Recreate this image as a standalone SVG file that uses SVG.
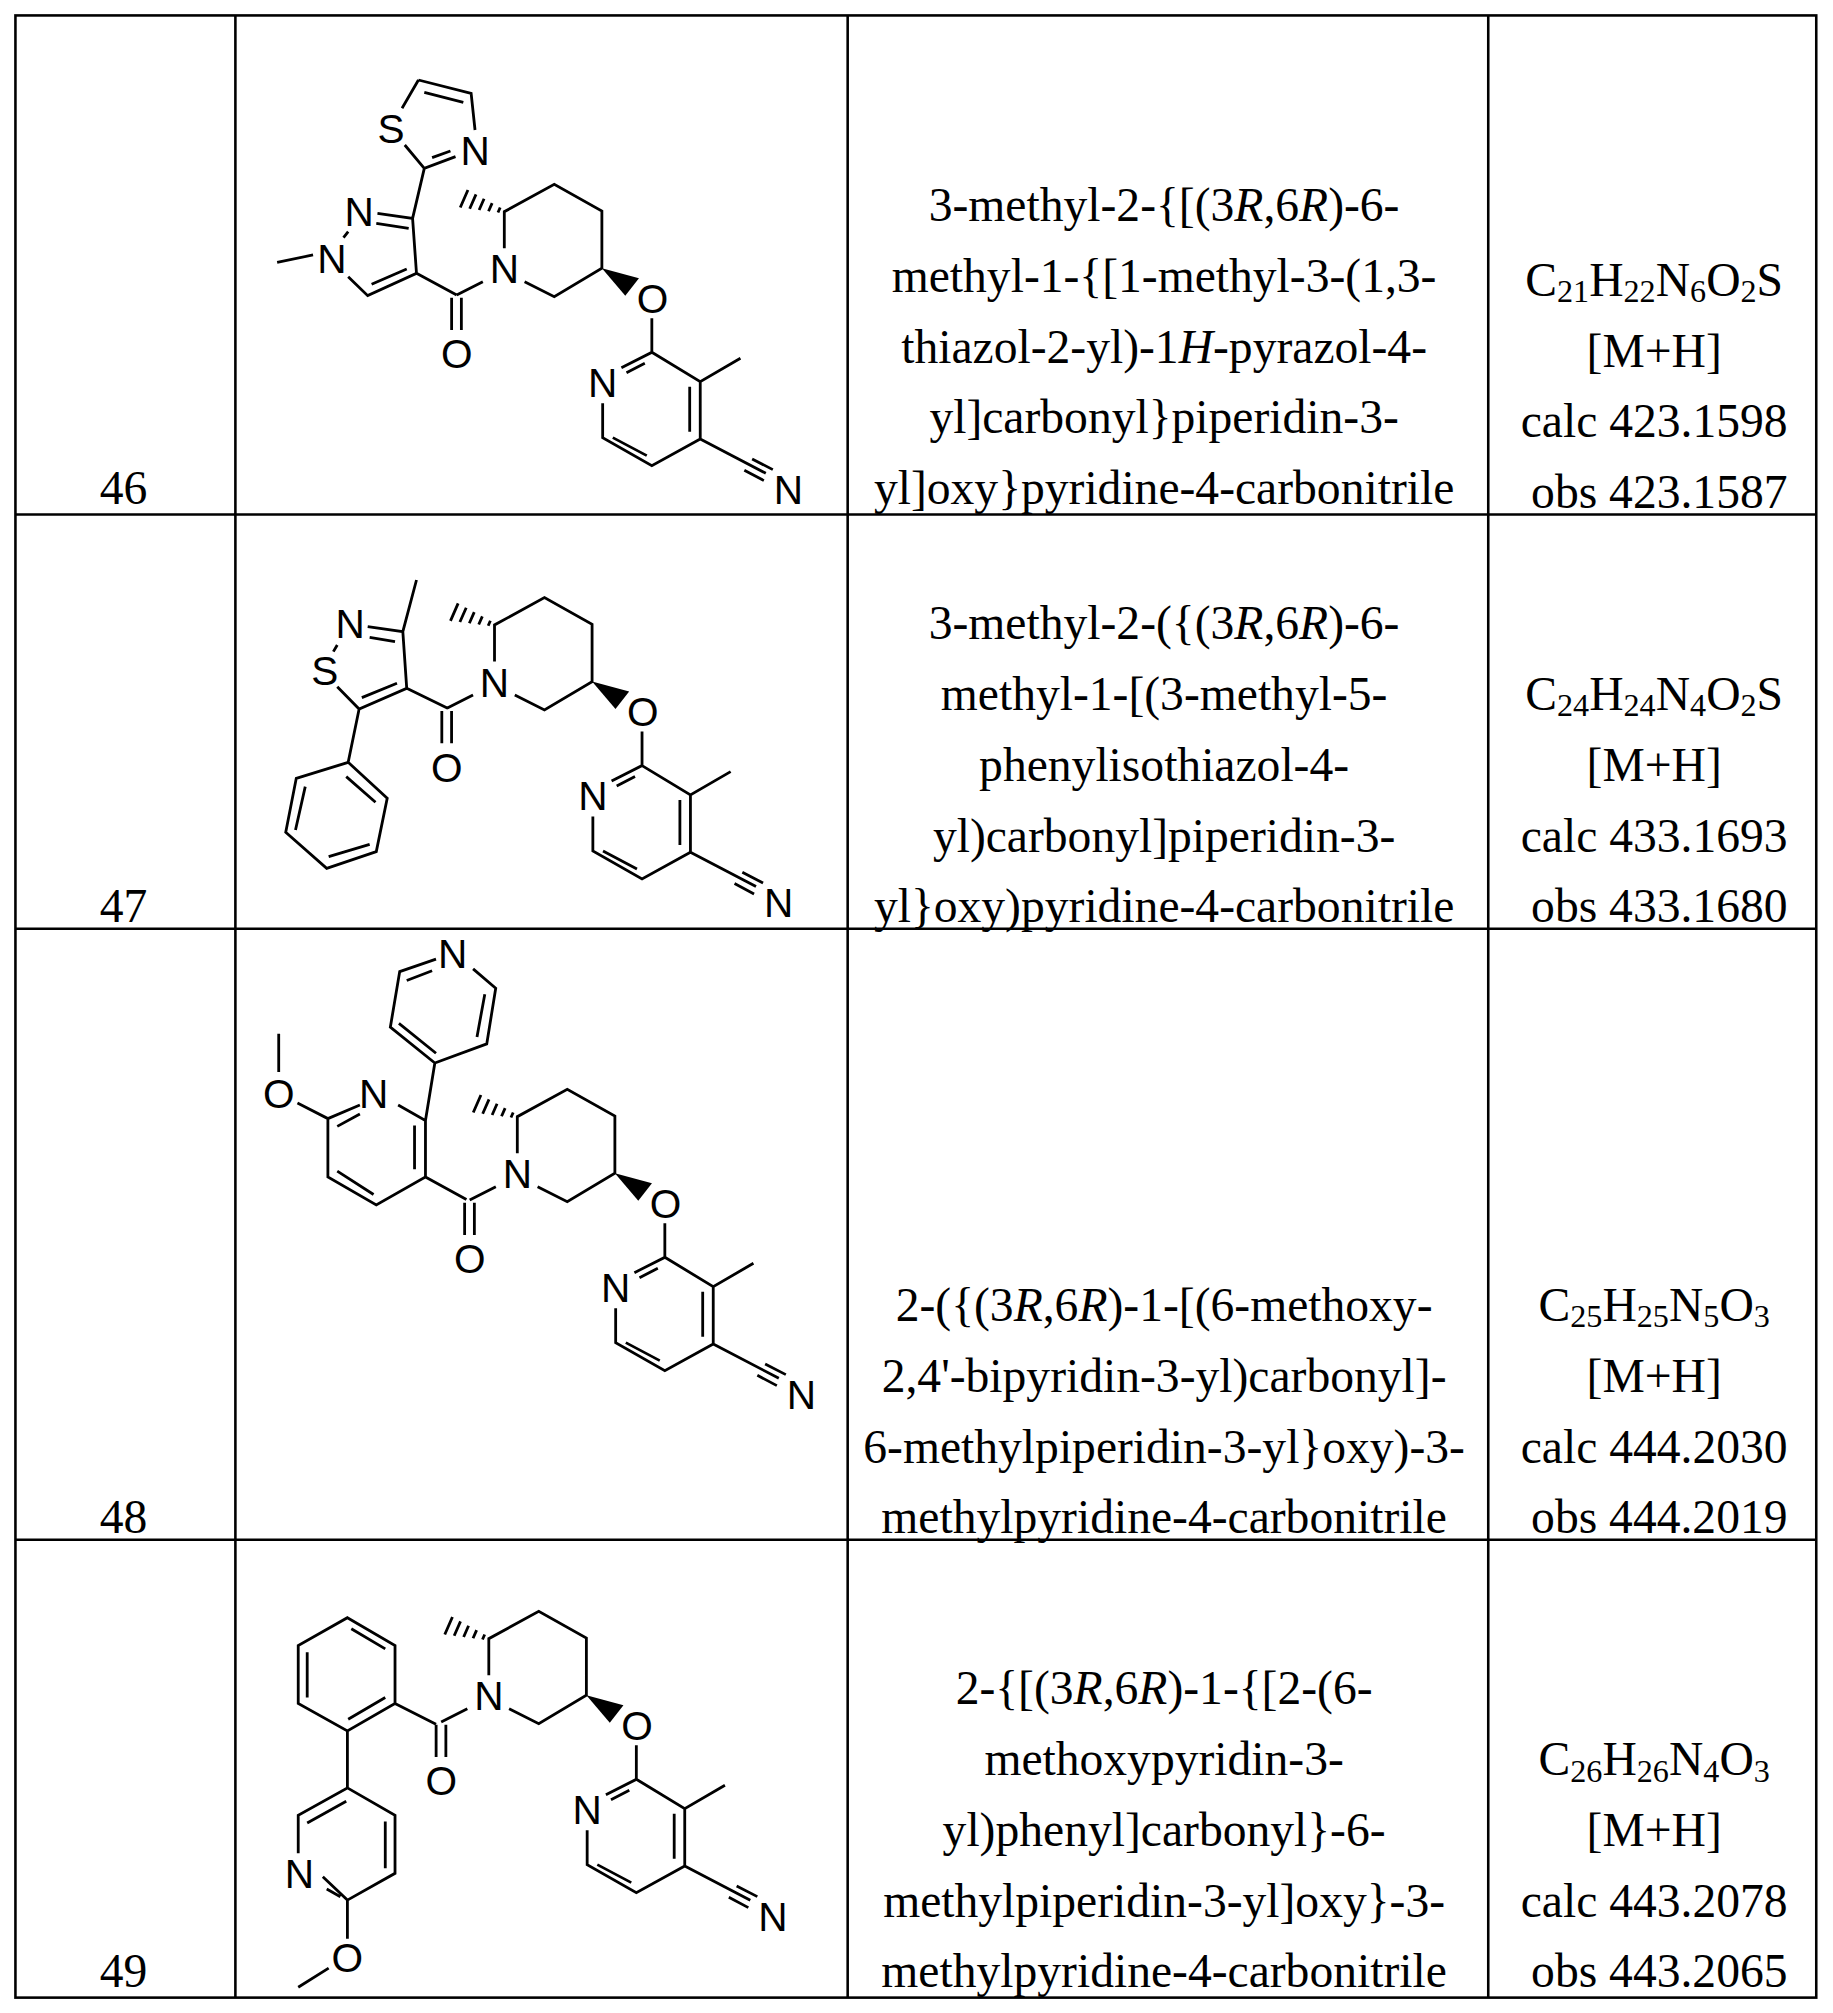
<svg xmlns="http://www.w3.org/2000/svg" xmlns:xlink="http://www.w3.org/1999/xlink" width="1833" height="2013" viewBox="0 0 1833 2013">
<style>
.b{stroke:#000;stroke-width:2.8;fill:none;vector-effect:non-scaling-stroke}
.a{font-family:"Liberation Sans",Arial,sans-serif;font-size:104px;text-anchor:middle;fill:#000}
.t{font-family:"Liberation Serif","Times New Roman",serif;font-size:37px;text-anchor:middle;fill:#000}
.s{font-size:25px}
.g{stroke:#000;stroke-width:2;fill:none}
</style>
<defs>
<g id="frag">
<g transform="scale(0.3903,0.3333)">
<path class="b" d="M568 840 L635 800 M555 848 L555 945 M580 848 L580 945 M690 700 L690 590 L818 508 L940 588 L940 760 L818 845 L742 800 M679.4 577.5 L673.8 592.5 M658.8 564.4 L649.6 588.8 M638.1 551.4 L625.5 585 M617.5 538.3 L601.3 581.3 M596.8 525.2 L577.2 577.6 M1068 910 L1068 1012 L990 1058 M1050 1045 L1003 1073 M1068 1012 L1192 1100 L1295 1030 M1192 1100 L1192 1272 M1165 1115 L1165 1250 M1192 1272 L1068 1352 L942 1268 L942 1165 M1055 1322 L968 1268 M1192 1272 L1360 1375 M1325 1332 L1378 1364 M1305 1366 L1355 1397"/>
<polygon points="940,760 1035,790 1000,842" fill="#000"/>
<text class="a" transform="translate(568,1060) scale(1,1.171)">O</text>
<text class="a" transform="translate(690,805) scale(1,1.171)">N</text>
<text class="a" transform="translate(1070,893) scale(1,1.171)">O</text>
<text class="a" transform="translate(942,1145) scale(1,1.171)">N</text>
<text class="a" transform="translate(1418,1467) scale(1,1.171)">N</text>
</g>
</g>
</defs>
<rect x="0" y="0" width="1833" height="2013" fill="#fff"/>
<g id="table" transform="scale(1.2863)">
<rect class="g" x="12" y="12" width="1400" height="1541"/>
<path class="g" d="M183 12 V1553 M659 12 V1553 M1157 12 V1553 M12 400 H1412 M12 722 H1412 M12 1197 H1412"/>
</g>
<g id="row46" transform="scale(1.2863)">
<text class="t" x="96" y="392">46</text>
<text class="t" x="905" y="172">3-methyl-2-{[(3<tspan font-style="italic">R</tspan>,6<tspan font-style="italic">R</tspan>)-6-</text>
<text class="t" x="905" y="227">methyl-1-{[1-methyl-3-(1,3-</text>
<text class="t" x="905" y="282">thiazol-2-yl)-1<tspan font-style="italic">H</tspan>-pyrazol-4-</text>
<text class="t" x="905" y="337">yl]carbonyl}piperidin-3-</text>
<text class="t" x="905" y="392">yl]oxy}pyridine-4-carbonitrile</text>
<text class="t" x="1286" y="230">C<tspan class="s" dy="5">21</tspan><tspan dy="-5">H</tspan><tspan class="s" dy="5">22</tspan><tspan dy="-5">N</tspan><tspan class="s" dy="5">6</tspan><tspan dy="-5">O</tspan><tspan class="s" dy="5">2</tspan><tspan dy="-5">S</tspan></text>
<text class="t" x="1286" y="285">[M+H]</text>
<text class="t" x="1286" y="340">calc 423.1598</text>
<text class="t" x="1290" y="395">obs 423.1587</text>
</g>
<g id="mol46">
<g transform="translate(235,15) scale(0.3903,0.3333)">
<path class="b" d="M470 195 L605 235 L615 345 M485 232 L585 262 M470 195 L428 280 M435 390 L485 460 L565 425 M505 428 L552 408 M485 460 L455 610 L365 595 M445 640 L362 625 M290 650 L278 668 M108 742 L200 720 M290 785 L340 842 L465 775 L455 610 M350 808 L440 762 M465 775 L568 840"/>
<text class="a" transform="translate(400,383) scale(1,1.171)">S</text>
<text class="a" transform="translate(615,450) scale(1,1.171)">N</text>
<text class="a" transform="translate(318,633) scale(1,1.171)">N</text>
<text class="a" transform="translate(248,773) scale(1,1.171)">N</text>
</g>
<use xlink:href="#frag" transform="translate(235,15)"/>
</g>
<g id="row47" transform="scale(1.2863)">
<text class="t" x="96" y="717">47</text>
<text class="t" x="905" y="497">3-methyl-2-({(3<tspan font-style="italic">R</tspan>,6<tspan font-style="italic">R</tspan>)-6-</text>
<text class="t" x="905" y="552">methyl-1-[(3-methyl-5-</text>
<text class="t" x="905" y="607">phenylisothiazol-4-</text>
<text class="t" x="905" y="662">yl)carbonyl]piperidin-3-</text>
<text class="t" x="905" y="717">yl}oxy)pyridine-4-carbonitrile</text>
<text class="t" x="1286" y="552">C<tspan class="s" dy="5">24</tspan><tspan dy="-5">H</tspan><tspan class="s" dy="5">24</tspan><tspan dy="-5">N</tspan><tspan class="s" dy="5">4</tspan><tspan dy="-5">O</tspan><tspan class="s" dy="5">2</tspan><tspan dy="-5">S</tspan></text>
<text class="t" x="1286" y="607">[M+H]</text>
<text class="t" x="1286" y="662">calc 433.1693</text>
<text class="t" x="1290" y="717">obs 433.1680</text>
</g>
<g id="mol47">
<g transform="translate(235,515) scale(0.3903,0.3333)">
<path class="b" d="M465 195 L430 350 L340 335 M410 380 L345 367 M262 390 L252 410 M262 515 L318 582 L440 520 L430 350 M325 548 L415 505 M440 520 L545 580 M318 582 L290 742 L390 850 L362 1010 L235 1060 L130 952 L157 790 L290 742 M285 785 L360 862 M345 988 L240 1025 M155 945 L180 815"/>
<text class="a" transform="translate(295,370) scale(1,1.171)">N</text>
<text class="a" transform="translate(230,510) scale(1,1.171)">S</text>
</g>
<use xlink:href="#frag" transform="translate(225.2,428.3)"/>
</g>
<g id="row48" transform="scale(1.2863)">
<text class="t" x="96" y="1192">48</text>
<text class="t" x="905" y="1027">2-({(3<tspan font-style="italic">R</tspan>,6<tspan font-style="italic">R</tspan>)-1-[(6-methoxy-</text>
<text class="t" x="905" y="1082">2,4'-bipyridin-3-yl)carbonyl]-</text>
<text class="t" x="905" y="1137">6-methylpiperidin-3-yl}oxy)-3-</text>
<text class="t" x="905" y="1192">methylpyridine-4-carbonitrile</text>
<text class="t" x="1286" y="1027">C<tspan class="s" dy="5">25</tspan><tspan dy="-5">H</tspan><tspan class="s" dy="5">25</tspan><tspan dy="-5">N</tspan><tspan class="s" dy="5">5</tspan><tspan dy="-5">O</tspan><tspan class="s" dy="5">3</tspan></text>
<text class="t" x="1286" y="1082">[M+H]</text>
<text class="t" x="1286" y="1137">calc 444.2030</text>
<text class="t" x="1290" y="1192">obs 444.2019</text>
</g>
<g id="mol48">
<g transform="translate(235,928) scale(0.3903,0.389)">
<path class="b" d="M112 272 L112 370 M160 450 L238 490 L320 455 M262 510 L320 478 M418 455 L488 495 L488 640 L362 712 L238 640 L238 490 M460 508 L460 620 M355 685 L262 625 M488 640 L593 698 M488 495 L512 347 L398 255 L422 112 L515 80 M420 245 L515 322 M440 135 L505 110 M610 105 L668 155 L645 298 L512 347 M640 170 L620 280"/>
<text class="a" x="112" y="462">O</text>
<text class="a" x="355" y="462">N</text>
<text class="a" x="558" y="104">N</text>
</g>
<use xlink:href="#frag" transform="translate(248,920)"/>
</g>
<g id="row49" transform="scale(1.2863)">
<text class="t" x="96" y="1545">49</text>
<text class="t" x="905" y="1325">2-{[(3<tspan font-style="italic">R</tspan>,6<tspan font-style="italic">R</tspan>)-1-{[2-(6-</text>
<text class="t" x="905" y="1380">methoxypyridin-3-</text>
<text class="t" x="905" y="1435">yl)phenyl]carbonyl}-6-</text>
<text class="t" x="905" y="1490">methylpiperidin-3-yl]oxy}-3-</text>
<text class="t" x="905" y="1545">methylpyridine-4-carbonitrile</text>
<text class="t" x="1286" y="1380">C<tspan class="s" dy="5">26</tspan><tspan dy="-5">H</tspan><tspan class="s" dy="5">26</tspan><tspan dy="-5">N</tspan><tspan class="s" dy="5">4</tspan><tspan dy="-5">O</tspan><tspan class="s" dy="5">3</tspan></text>
<text class="t" x="1286" y="1435">[M+H]</text>
<text class="t" x="1286" y="1490">calc 443.2078</text>
<text class="t" x="1290" y="1545">obs 443.2065</text>
</g>
<g id="mol49">
<g transform="translate(235,1540) scale(0.3903,0.335)">
<path class="b" d="M288 232 L410 315 L410 488 L288 570 L162 488 L162 315 Z M298 265 L385 325 M385 470 L290 535 M185 470 L185 335 M410 488 L515 550 M288 570 L288 740 L162 822 L162 935 M185 845 L285 780 M225 1005 L288 1075 L410 995 L410 822 L288 740 M235 1042 L270 1065 M385 980 L385 840 M288 1075 L288 1190 M240 1278 L162 1335"/>
<text class="a" transform="translate(165,1040) scale(1,1.165)">N</text>
<text class="a" transform="translate(288,1290) scale(1,1.165)">O</text>
</g>
<use xlink:href="#frag" transform="translate(219.5,1442)"/>
</g>
</svg>
